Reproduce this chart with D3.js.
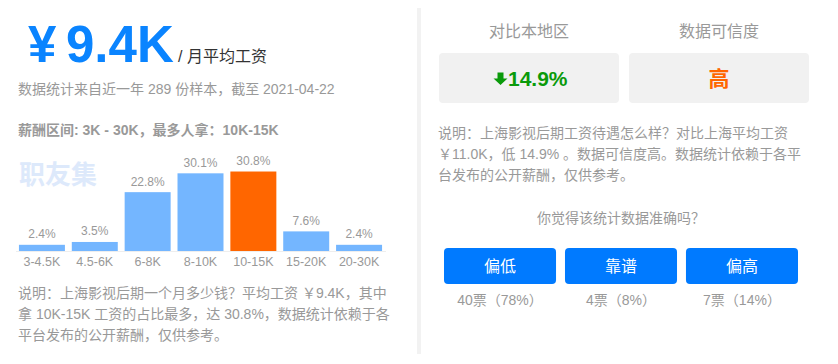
<!DOCTYPE html>
<html>
<head>
<meta charset="utf-8">
<script src="https://cdn.jsdelivr.net/npm/d3@7"></script>
<style>
  body { margin: 0; background: #fff; }
  svg { display: block; font-family: "Liberation Sans", Arial, "Noto Sans CJK SC", sans-serif; }
</style>
</head>
<body>
<div id="chart"></div>
<script>
// salary distribution
const categories = ["3-4.5K", "4.5-6K", "6-8K", "8-10K", "10-15K", "15-20K", "20-30K"];
const shares = [2.4, 3.5, 22.8, 30.1, 30.8, 7.6, 2.4];
const topCategory = "10-15K";

// summary texts
const currency = "¥";
const avgSalary = "9.4K";
const sampleNote = "数据统计来自近一年 289 份样本，截至 2021-04-22";
const rangeNote = "薪酬区间: 3K - 30K，最多人拿：10K-15K";
const leftNote = [
  "说明：上海影视后期一个月多少钱？平均工资 ￥9.4K，其中",
  "拿 10K-15K 工资的占比最多，达 30.8%，数据统计依赖于各",
  "平台发布的公开薪酬，仅供参考。"
];

// comparison boxes
const compareTitles = ["对比本地区", "数据可信度"];
const compareDiff = "14.9%";
const credibility = "高";
const rightNote = [
  "说明：上海影视后期工资待遇怎么样？对比上海平均工资",
  "￥11.0K，低 14.9% 。数据可信度高。数据统计依赖于各平",
  "台发布的公开薪酬，仅供参考。"
];

// votes
const voteQuestion = "你觉得该统计数据准确吗？";
const voteLabels = ["偏低", "靠谱", "偏高"];
const voteCounts = [40, 4, 7];
const votePcts = [78, 8, 14];

const width = 838, height = 364;
const grey = "#999";

const svg = d3.select("#chart").append("svg")
    .attr("width", width)
    .attr("height", height);

// ---- left panel ----
const big = svg.append("g")
    .attr("fill", "#0a84ff")
    .attr("font-size", 51).attr("font-weight", "bold");
big.append("text").attr("x", 28).attr("y", 62).text(currency);
big.append("text").attr("x", 66).attr("y", 62).text(avgSalary);

svg.append("text")
    .attr("x", 178).attr("y", 62)
    .attr("fill", "#333").attr("font-size", 16)
    .text("/ 月平均工资");

svg.append("text")
    .attr("x", 18).attr("y", 94)
    .attr("fill", grey).attr("font-size", 14)
    .text(sampleNote);

svg.append("text")
    .attr("x", 18).attr("y", 135)
    .attr("fill", grey).attr("font-size", 14).attr("font-weight", "bold")
    .text(rangeNote);

// watermark
svg.append("text")
    .attr("x", 19).attr("y", 184)
    .attr("fill", "#dde9fb").attr("font-size", 26).attr("font-weight", "bold")
    .text("职友集");

const x = d3.scaleBand()
    .domain(categories)
    .range([15.5, 385.5])
    .paddingInner(0.13)
    .paddingOuter(0.065);

const y = d3.scaleLinear()
    .domain([0, 31])
    .range([251, 171]);

const bars = svg.append("g");
bars.selectAll("rect")
    .data(categories)
    .join("rect")
    .attr("x", d => x(d))
    .attr("width", x.bandwidth())
    .attr("y", (d, i) => y(shares[i]))
    .attr("height", (d, i) => y(0) - y(shares[i]))
    .attr("fill", d => d === topCategory ? "#ff6600" : "#74b6ff");

bars.selectAll("text")
    .data(categories)
    .join("text")
    .attr("x", d => x(d) + x.bandwidth() / 2)
    .attr("y", (d, i) => y(shares[i]) - 6.5)
    .attr("text-anchor", "middle")
    .attr("fill", grey).attr("font-size", 12)
    .text((d, i) => shares[i] + "%");

const xAxis = svg.append("g")
    .attr("transform", `translate(0,${y(0)})`)
    .call(d3.axisBottom(x).tickSize(0).tickPadding(6));
xAxis.select(".domain").attr("stroke", "#eee");
xAxis.selectAll("text")
    .attr("fill", grey).attr("font-size", 12.5)
    .attr("font-family", null);

svg.append("g").selectAll("text")
    .data(leftNote)
    .join("text")
    .attr("x", 18).attr("y", (d, i) => 298 + i * 21)
    .attr("fill", grey).attr("font-size", 14)
    .text(d => d);

// divider
svg.append("rect")
    .attr("x", 417).attr("y", 8)
    .attr("width", 4).attr("height", 346)
    .attr("fill", "#f2f2f2");

// ---- right panel ----
const cx = d3.scaleBand()
    .domain(compareTitles)
    .range([439, 809])
    .paddingInner(0.0526);

const cmp = svg.append("g").selectAll("g")
    .data(compareTitles)
    .join("g")
    .attr("transform", d => `translate(${cx(d)},0)`);

cmp.append("text")
    .attr("x", cx.bandwidth() / 2).attr("y", 37)
    .attr("text-anchor", "middle")
    .attr("fill", grey).attr("font-size", 16)
    .text(d => d);

cmp.append("rect")
    .attr("y", 53)
    .attr("width", cx.bandwidth()).attr("height", 50)
    .attr("rx", 4)
    .attr("fill", "#f1f1f1");

// down arrow + percentage
const diffBox = svg.append("g")
    .attr("transform", `translate(${cx(compareTitles[0])},0)`);
diffBox.append("path")
    .attr("d", "M58.5,72.5h6v6h4l-7,6.5l-7,-6.5h4z")
    .attr("fill", "#0a9a0a");
diffBox.append("text")
    .attr("x", 69).attr("y", 85.5)
    .attr("fill", "#0a9a0a").attr("font-size", 21).attr("font-weight", "bold")
    .text(compareDiff);

svg.append("text")
    .attr("x", cx(compareTitles[1]) + cx.bandwidth() / 2).attr("y", 86)
    .attr("text-anchor", "middle")
    .attr("fill", "#ff6600").attr("font-size", 21).attr("font-weight", "bold")
    .text(credibility);

svg.append("g").selectAll("text")
    .data(rightNote)
    .join("text")
    .attr("x", 438).attr("y", (d, i) => 138 + i * 21)
    .attr("fill", grey).attr("font-size", 14)
    .text(d => d);

svg.append("text")
    .attr("x", 621).attr("y", 223)
    .attr("text-anchor", "middle")
    .attr("fill", grey).attr("font-size", 14)
    .text(voteQuestion);

const vx = d3.scaleBand()
    .domain(voteLabels)
    .range([444, 798])
    .paddingInner(0.074);

const votes = svg.append("g").selectAll("g")
    .data(voteLabels)
    .join("g")
    .attr("transform", d => `translate(${vx(d)},0)`);

votes.append("rect")
    .attr("y", 248)
    .attr("width", vx.bandwidth()).attr("height", 36)
    .attr("rx", 4)
    .attr("fill", "#007aff");

votes.append("text")
    .attr("x", vx.bandwidth() / 2).attr("y", 272)
    .attr("text-anchor", "middle")
    .attr("fill", "#fff").attr("font-size", 16)
    .text(d => d);

votes.append("text")
    .attr("x", vx.bandwidth() / 2).attr("y", 305)
    .attr("text-anchor", "middle")
    .attr("fill", grey).attr("font-size", 14)
    .text((d, i) => `${voteCounts[i]}票（${votePcts[i]}%）`);
</script>
</body>
</html>
